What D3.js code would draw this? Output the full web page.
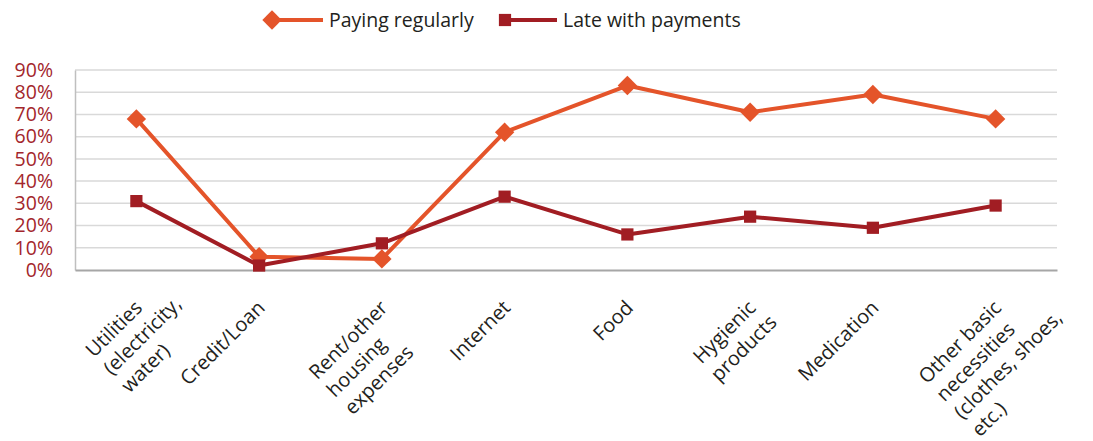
<!DOCTYPE html>
<html>
<head>
<meta charset="utf-8">
<script src="https://cdn.jsdelivr.net/npm/d3@7"></script>
<style>
  html, body { margin: 0; padding: 0; background: #ffffff; }
  svg { display: block; font-family: "Open Sans", "Noto Sans", sans-serif; }
</style>
</head>
<body>
<svg id="chart" width="1093" height="441"></svg>
<script>
// Spending categories (label lines as they wrap under the axis)
const categories = [
  ["Utilities", "(electricity,", "water)"],
  ["Credit/Loan"],
  ["Rent/other", "housing", "expenses"],
  ["Internet"],
  ["Food"],
  ["Hygienic", "products"],
  ["Medication"],
  ["Other basic", "necessities", "(clothes, shoes,", "etc.)"]
];

// Share of households, per category
const payingRegularly = [0.68, 0.06, 0.05, 0.62, 0.83, 0.71, 0.79, 0.68];
const lateWithPayments = [0.31, 0.02, 0.12, 0.33, 0.16, 0.24, 0.19, 0.29];

const seriesNames = ["Paying regularly", "Late with payments"];
const yTicks = [0, 0.1, 0.2, 0.3, 0.4, 0.5, 0.6, 0.7, 0.8, 0.9];

const ORANGE = "#E4542A";
const DARKRED = "#A11D23";
const AXISRED = "#A3262C";
const TEXT = "#231F20";

const svg = d3.select("#chart");
const margin = { left: 75, right: 36, top: 70, bottom: 171 };
const W = 1093, H = 441;

const keys = categories.map((c, i) => "c" + i);
const x = d3.scaleBand().domain(keys).range([margin.left, W - margin.right]);
const y = d3.scaleLinear().domain([0, 0.9]).range([H - margin.bottom, margin.top]);
const cx = i => x(keys[i]) + x.bandwidth() / 2;

// Horizontal gridlines
svg.append("g")
  .selectAll("line")
  .data(yTicks.filter(t => t > 0))
  .join("line")
  .attr("x1", margin.left).attr("x2", W - margin.right)
  .attr("y1", d => y(d)).attr("y2", d => y(d))
  .attr("stroke", "#d9d9d9").attr("stroke-width", 1.5);

// Y axis
const yAxis = d3.axisLeft(y).tickValues(yTicks).tickFormat(d3.format(".0%")).tickSize(0).tickPadding(22);
const yG = svg.append("g").attr("transform", `translate(${margin.left},0)`).call(yAxis);
yG.select(".domain").attr("stroke", "#bfbfbf").attr("stroke-width", 1.5);
yG.selectAll("text")
  .attr("fill", AXISRED)
  .style("font-size", "19.5px")
  .style("font-family", "'Open Sans', sans-serif");

// X axis baseline
const xAxis = d3.axisBottom(x).tickSize(0).tickFormat("");
const xG = svg.append("g").attr("transform", `translate(0,${y(0)})`).call(xAxis);
xG.select(".domain").attr("stroke", "#a6a6a6").attr("stroke-width", 2);

// Rotated, multi-line category labels: each line is its own text,
// all lines starting where the first line starts
const labelSize = 20;
const lineStep = 25;
const labelG = svg.append("g");
categories.forEach((lines, i) => {
  const g = labelG.append("g")
    .attr("transform", `translate(${cx(i) + 7},${y(0) + 39}) rotate(-45)`);
  const probe = g.append("text").style("font-size", labelSize + "px").text(lines[0]);
  const w0 = probe.node().getComputedTextLength();
  probe.remove();
  g.selectAll("text")
    .data(lines)
    .join("text")
    .attr("x", -w0)
    .attr("y", (s, j) => j * lineStep)
    .attr("fill", TEXT)
    .style("font-size", labelSize + "px")
    .text(s => s);
});

// Series lines and markers
const line = d3.line().x((d, i) => cx(i)).y(d => y(d));

function drawSeries(values, color, symbolType, size) {
  svg.append("path")
    .datum(values)
    .attr("d", line)
    .attr("fill", "none")
    .attr("stroke", color)
    .attr("stroke-width", 4)
    .attr("stroke-linejoin", "round");
  svg.append("g")
    .selectAll("path")
    .data(values)
    .join("path")
    .attr("transform", (d, i) => `translate(${cx(i)},${y(d)})`)
    .attr("d", d3.symbol().type(symbolType).size(size))
    .attr("fill", color);
}

drawSeries(payingRegularly, ORANGE, d3.symbolDiamond2, 240);
drawSeries(lateWithPayments, DARKRED, d3.symbolSquare2, 190);

// Legend
const legend = [
  { name: seriesNames[0], color: ORANGE, sym: d3.symbolDiamond2, size: 240, x0: 272, x1: 323, tx: 329 },
  { name: seriesNames[1], color: DARKRED, sym: d3.symbolSquare2, size: 190, x0: 505, x1: 557, tx: 563 }
];
const lg = svg.append("g");
legend.forEach(l => {
  lg.append("line")
    .attr("x1", l.x0).attr("x2", l.x1)
    .attr("y1", 20).attr("y2", 20)
    .attr("stroke", l.color).attr("stroke-width", 4);
  lg.append("path")
    .attr("transform", `translate(${l.x0},20)`)
    .attr("d", d3.symbol().type(l.sym).size(l.size))
    .attr("fill", l.color);
  lg.append("text")
    .attr("x", l.tx).attr("y", 26.5)
    .attr("fill", TEXT)
    .style("font-size", "19.5px")
    .text(l.name);
});
</script>
</body>
</html>
